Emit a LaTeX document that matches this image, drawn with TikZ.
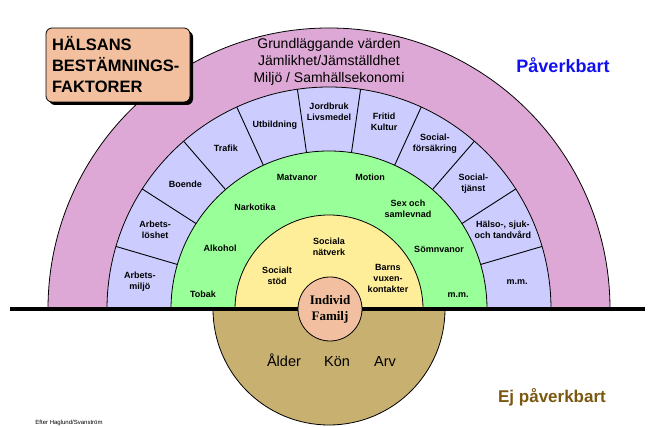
\documentclass[tikz,border=0pt]{standalone}
\usepackage{fontspec}
\setmainfont{Liberation Sans}
\newfontfamily\serifbold{Liberation Serif}
\usetikzlibrary{shadows}

\definecolor{pinkring}{RGB}{221,168,213}
\definecolor{lavring}{RGB}{204,204,255}
\definecolor{greenring}{RGB}{153,255,153}
\definecolor{yellowring}{RGB}{255,238,153}
\definecolor{individfill}{RGB}{242,192,160}
\definecolor{tanbase}{RGB}{200,176,112}
\definecolor{titlefill}{RGB}{242,192,158}
\definecolor{pablue}{RGB}{16,16,240}
\definecolor{ejbrown}{RGB}{122,88,16}

\tikzset{
    half/.style={draw=black, line width=0.8pt},
    lbl/.style={font=\bfseries\fontsize{9}{11}\selectfont, align=center, inner sep=0pt},
    arvlbl/.style={font=\fontsize{14.5}{17}\selectfont, anchor=base, inner sep=0pt},
}

\begin{document}
\begin{tikzpicture}[x=1pt, y=1pt]
            \useasboundingbox (0,0) rectangle (654,427);

            \begin{scope}[shift={(329,118)}]
            \draw[half, fill=tanbase] (-116,0) arc (180:360:116) -- cycle;
            \draw[half, fill=pinkring] (281,0) arc (0:180:281) -- cycle;
            \draw[half, fill=lavring] (222,0) arc (0:180:222) -- cycle;
            \draw[half, fill=greenring] (158,0) arc (0:180:158) -- cycle;
            \draw[half, fill=yellowring] (94,0) arc (0:180:94) -- cycle;

            \foreach \k in {1,...,10} \draw[line width=0.9pt] ({\k*180/11}:158) -- ({\k*180/11}:222);

            \draw[line width=4pt] (-319,0) -- (316,0);

            \node[circle, draw, line width=0.8pt, fill=individfill, minimum size=64pt, inner sep=0pt,
                  font=\serifbold\bfseries\fontsize{13}{16}\selectfont, align=center] (individ) at (1,0) {Individ\\Familj};

            \node[font=\fontsize{14}{17}\selectfont, align=center, inner sep=0pt] (grund) at (0,247)
                {Grundläggande värden\\Jämlikhet/Jämställdhet\\Miljö / Samhällsekonomi};

            \node[lbl] (mmyttre) at (8.2:190) {m.m.};
            \node[lbl] (halso) at (24.5:191) {Hälso-, sjuk-\\och tandvård};
            \node[lbl] (soctjanst) at (40.9:191) {Social-\\tjänst};
            \node[lbl] (socforsak) at (57.3:196) {Social-\\försäkring};
            \node[lbl] (fritid) at (73.6:195) {Fritid\\Kultur};
            \node[lbl] (jordbruk) at (90:197) {Jordbruk\\Livsmedel};
            \node[lbl] (utbildning) at (106.4:192) {Utbildning};
            \node[lbl] (trafik) at (122.7:191) {Trafik};
            \node[lbl] (boende) at (139.1:190) {Boende};
            \node[lbl] (arbloshet) at (155.5:191) {Arbets-\\löshet};
            \node[lbl] (arbmiljo) at (171.8:191) {Arbets-\\miljö};

            \node[lbl] (tobak) at (-126,15) {Tobak};
            \node[lbl] (alkohol) at (-109,61) {Alkohol};
            \node[lbl] (narkotika) at (-74,102) {Narkotika};
            \node[lbl] (matvanor) at (-32,132) {Matvanor};
            \node[lbl] (motion) at (41,132) {Motion};
            \node[lbl] (sex) at (79,100) {Sex och\\samlevnad};
            \node[lbl] (somn) at (110,60) {Sömnvanor};
            \node[lbl] (mminre) at (129,14) {m.m.};

            \node[lbl] (stod) at (-52,33) {Socialt\\stöd};
            \node[lbl] (natverk) at (0,62) {Sociala\\nätverk};
            \node[lbl] (barns) at (59,31) {Barns\\vuxen-\\kontakter};

            \node[arvlbl] (alder) at (-45,-58) {Ålder};
            \node[arvlbl] (kon) at (8,-58) {Kön};
            \node[arvlbl] (arv) at (56,-58) {Arv};
            \end{scope}

            \node[draw, line width=0.8pt, rounded corners=6pt, fill=titlefill,
                  drop shadow={shadow xshift=3pt, shadow yshift=-3pt, fill=black, opacity=1},
                  text width=132pt, inner xsep=6pt, minimum height=74pt, align=left,
                  font=\bfseries\fontsize{16.5}{21}\selectfont] (titel) at (118,362)
                {HÄLSANS\\BESTÄMNINGS-\\FAKTORER};

            \node[font=\bfseries\fontsize{18}{21}\selectfont, text=pablue] (paverk) at (563,362) {Påverkbart};
            \node[font=\bfseries\fontsize{17}{20}\selectfont, text=ejbrown] (ejpaverk) at (552,30) {Ej påverkbart};
            \node[font=\fontsize{6}{7}\selectfont] (efter) at (69,4) {Efter Haglund/Svanström};
\end{tikzpicture}
\end{document}
